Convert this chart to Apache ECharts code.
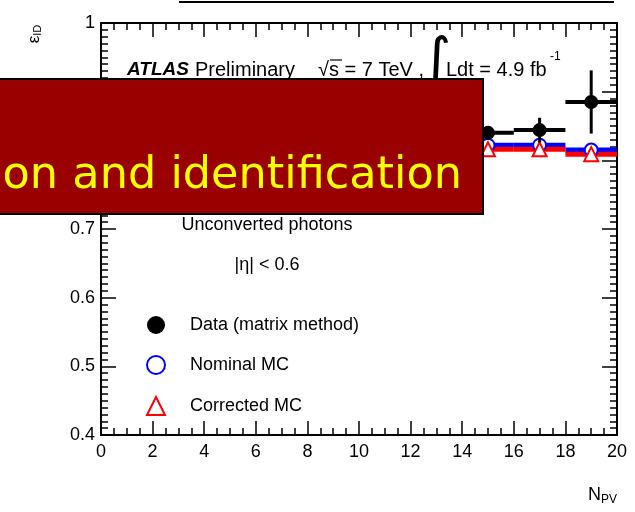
<!DOCTYPE html>
<html>
<head>
<meta charset="utf-8">
<script src="https://cdn.jsdelivr.net/npm/echarts@6/dist/echarts.min.js"></script>
<style>
  html, body { margin: 0; padding: 0; background: #fff; }
  #chart { width: 635px; height: 512px; }
</style>
</head>
<body>
<div id="chart"></div>
<script>
// N_PV bins (centre and half width) and the efficiencies measured in each
const binCenters = [15, 17, 19];
const binHalfWidths = [1, 1, 1];
const dataEff = [0.840, 0.844, 0.885];
const dataErr = [0.010, 0.018, 0.046];
const nominalMC = [0.822, 0.822, 0.815];
const correctedMC = [0.816, 0.816, 0.809];

// axis tick labels
const xTickValues = [0, 2, 4, 6, 8, 10, 12, 14, 16, 18, 20];
const xTickLabels = ['0', '2', '4', '6', '8', '10', '12', '14', '16', '18', '20'];
const yTickValues = [0.4, 0.5, 0.6, 0.7, 0.8, 0.9, 1.0];
const yTickLabels = ['0.4', '0.5', '0.6', '0.7', '0.8', '0.9', '1'];

const seriesNames = ['Data (matrix method)', 'Nominal MC', 'Corrected MC'];

const FONT = '"Liberation Sans", Arial, Helvetica, sans-serif';

function tickLabel(values, labels) {
  return function (v) {
    for (let i = 0; i < values.length; i++) {
      if (Math.abs(values[i] - v) < 1e-6) return labels[i];
    }
    return '';
  };
}

// horizontal bin-width bars drawn through the axis scales
function binBars(name, values, color, width, z) {
  return {
    name: name,
    type: 'custom',
    silent: true,
    z: z,
    renderItem: function (params, api) {
      const c = api.value(0), h = api.value(1), v = api.value(2);
      const a = api.coord([c - h, v]);
      const b = api.coord([c + h, v]);
      return {
        type: 'line',
        shape: { x1: a[0], y1: a[1], x2: b[0], y2: b[1] },
        style: { stroke: color, lineWidth: width }
      };
    },
    encode: { x: 0, y: 2 },
    data: binCenters.map((c, i) => [c, binHalfWidths[i], values[i]])
  };
}

// data error bars: bin width horizontally, statistical error vertically
const dataErrorBars = {
  name: 'data-errors',
  type: 'custom',
  silent: true,
  z: 5,
  renderItem: function (params, api) {
    const c = api.value(0), h = api.value(1), v = api.value(2), e = api.value(3);
    const l = api.coord([c - h, v]);
    const r = api.coord([c + h, v]);
    const t = api.coord([c, v + e]);
    const b = api.coord([c, v - e]);
    return {
      type: 'group',
      children: [
        { type: 'line', shape: { x1: l[0], y1: l[1], x2: r[0], y2: r[1] }, style: { stroke: '#000', lineWidth: 4 } },
        { type: 'line', shape: { x1: t[0], y1: t[1], x2: b[0], y2: b[1] }, style: { stroke: '#000', lineWidth: 3 } }
      ]
    };
  },
  encode: { x: 0, y: 2 },
  data: binCenters.map((c, i) => [c, binHalfWidths[i], dataEff[i], dataErr[i]])
};

const axisLineStyle = { color: '#000', width: 2 };

function xAxisDef(pos, showLabels) {
  return {
    type: 'value', position: pos, min: 0, max: 20, interval: 2,
    axisLine: { show: true, onZero: false, lineStyle: axisLineStyle },
    axisTick: { show: true, inside: true, length: 14, lineStyle: { color: '#000', width: 1.5 } },
    minorTick: { show: true, splitNumber: 4, length: 7, lineStyle: { color: '#000', width: 1.5 } },
    splitLine: { show: false },
    axisLabel: {
      show: showLabels, color: '#000', fontSize: 18, fontFamily: FONT, margin: 8,
      formatter: tickLabel(xTickValues, xTickLabels)
    }
  };
}

function yAxisDef(pos, showLabels) {
  return {
    type: 'value', position: pos, min: 0.4, max: 1.0, interval: 0.1,
    axisLine: { show: true, onZero: false, lineStyle: axisLineStyle },
    axisTick: { show: true, inside: true, length: 15, lineStyle: { color: '#000', width: 1.5 } },
    minorTick: { show: true, splitNumber: 10, length: 7, lineStyle: { color: '#000', width: 1.5 } },
    splitLine: { show: false },
    axisLabel: {
      show: showLabels, color: '#000', fontSize: 18, fontFamily: FONT, margin: 6,
      formatter: tickLabel(yTickValues, yTickLabels)
    }
  };
}

const chart = echarts.init(document.getElementById('chart'), null, { renderer: 'canvas' });

chart.setOption({
  backgroundColor: '#fff',
  animation: false,
  grid: { left: 101, right: 18, top: 23, bottom: 77 },
  xAxis: [xAxisDef('bottom', true), xAxisDef('top', false)],
  yAxis: [yAxisDef('left', true), yAxisDef('right', false)],
  legend: {
    orient: 'vertical', left: 141, top: 311, itemGap: 21,
    itemWidth: 18, itemHeight: 18,
    selectedMode: false,
    data: seriesNames,
    textStyle: { color: '#000', fontSize: 18, fontFamily: FONT, padding: [0, 0, 0, 20] }
  },
  series: [
    binBars('nominal-bins', nominalMC, '#0000ff', 5, 2),
    binBars('corrected-bins', correctedMC, '#ff0000', 5, 2),
    {
      name: seriesNames[1], type: 'scatter', z: 3,
      symbol: 'emptyCircle', symbolSize: 13,
      itemStyle: { color: '#0000ff', borderColor: '#0000ff', borderWidth: 2, opacity: 1 },
      data: binCenters.map((c, i) => [c, nominalMC[i]])
    },
    {
      name: seriesNames[2], type: 'scatter', z: 4,
      symbol: 'emptyTriangle', symbolSize: 14,
      itemStyle: { color: '#ff0000', borderColor: '#ff0000', borderWidth: 2, opacity: 1 },
      data: binCenters.map((c, i) => [c, correctedMC[i]])
    },
    dataErrorBars,
    {
      name: seriesNames[0], type: 'scatter', z: 6,
      symbol: 'circle', symbolSize: 14,
      itemStyle: { color: '#000', opacity: 1 },
      data: binCenters.map((c, i) => [c, dataEff[i]])
    }
  ],
  graphic: [
    // rule at the top edge
    { type: 'line', shape: { x1: 179, y1: 2, x2: 614, y2: 2 }, style: { stroke: '#000', lineWidth: 2 }, z: 10 },
    // axis titles
    {
      type: 'text', x: 34, y: 34, rotation: Math.PI / 2, z: 10,
      style: {
        text: 'ε{s|ID}', fill: '#000', font: '17px ' + FONT,
        align: 'center', verticalAlign: 'middle',
        rich: { s: { fontSize: 11, fontFamily: FONT, fill: '#000', verticalAlign: 'bottom', padding: [8, 0, 0, 0] } }
      }
    },
    {
      type: 'text', x: 588, y: 495, z: 10,
      style: {
        text: 'N{s|PV}', fill: '#000', font: '18px ' + FONT,
        verticalAlign: 'middle',
        rich: { s: { fontSize: 12, fontFamily: FONT, fill: '#000', padding: [10, 0, 0, 0] } }
      }
    },
    // experiment label
    { type: 'text', x: 127, y: 70, z: 10, style: { text: 'ATLAS', fill: '#000', font: 'italic bold 19px ' + FONT, verticalAlign: 'middle' } },
    { type: 'text', x: 195, y: 70, z: 10, style: { text: 'Preliminary', fill: '#000', font: '20px ' + FONT, verticalAlign: 'middle' } },
    { type: 'text', x: 318, y: 70, z: 10, style: { text: '√s = 7 TeV ,', fill: '#000', font: '20px ' + FONT, verticalAlign: 'middle' } },
    { type: 'line', shape: { x1: 330, y1: 60, x2: 342, y2: 60 }, style: { stroke: '#000', lineWidth: 1.2 }, z: 10 },
    { type: 'text', x: 436, y: 64, z: 10, style: { text: '∫', fill: '#000', font: '58px "DejaVu Sans", sans-serif', align: 'center', verticalAlign: 'middle' } },
    { type: 'text', x: 446, y: 70, z: 10, style: { text: 'Ldt = 4.9 fb', fill: '#000', font: '20px ' + FONT, verticalAlign: 'middle' } },
    { type: 'text', x: 550, y: 57, z: 10, style: { text: '-1', fill: '#000', font: '12px ' + FONT, verticalAlign: 'middle' } },
    // selection labels
    { type: 'text', x: 267, y: 225, z: 10, style: { text: 'Unconverted photons', fill: '#000', font: '18px ' + FONT, align: 'center', verticalAlign: 'middle' } },
    { type: 'text', x: 267, y: 265, z: 10, style: { text: '|η| < 0.6', fill: '#000', font: '18px ' + FONT, align: 'center', verticalAlign: 'middle' } },
    // slide banner laid over the plot
    {
      type: 'rect', zlevel: 5, z: 100,
      shape: { x: -2, y: 79, width: 485, height: 135 },
      style: { fill: '#990000', stroke: '#000', lineWidth: 2 }
    },
    {
      type: 'text', zlevel: 5, z: 101, x: 462, y: 176,
      style: {
        text: 'ion and identification', fill: '#ffff00',
        font: '44.6px "Comic Sans MS", "DejaVu Sans", sans-serif',
        align: 'right', verticalAlign: 'middle'
      }
    }
  ]
});
</script>
</body>
</html>
